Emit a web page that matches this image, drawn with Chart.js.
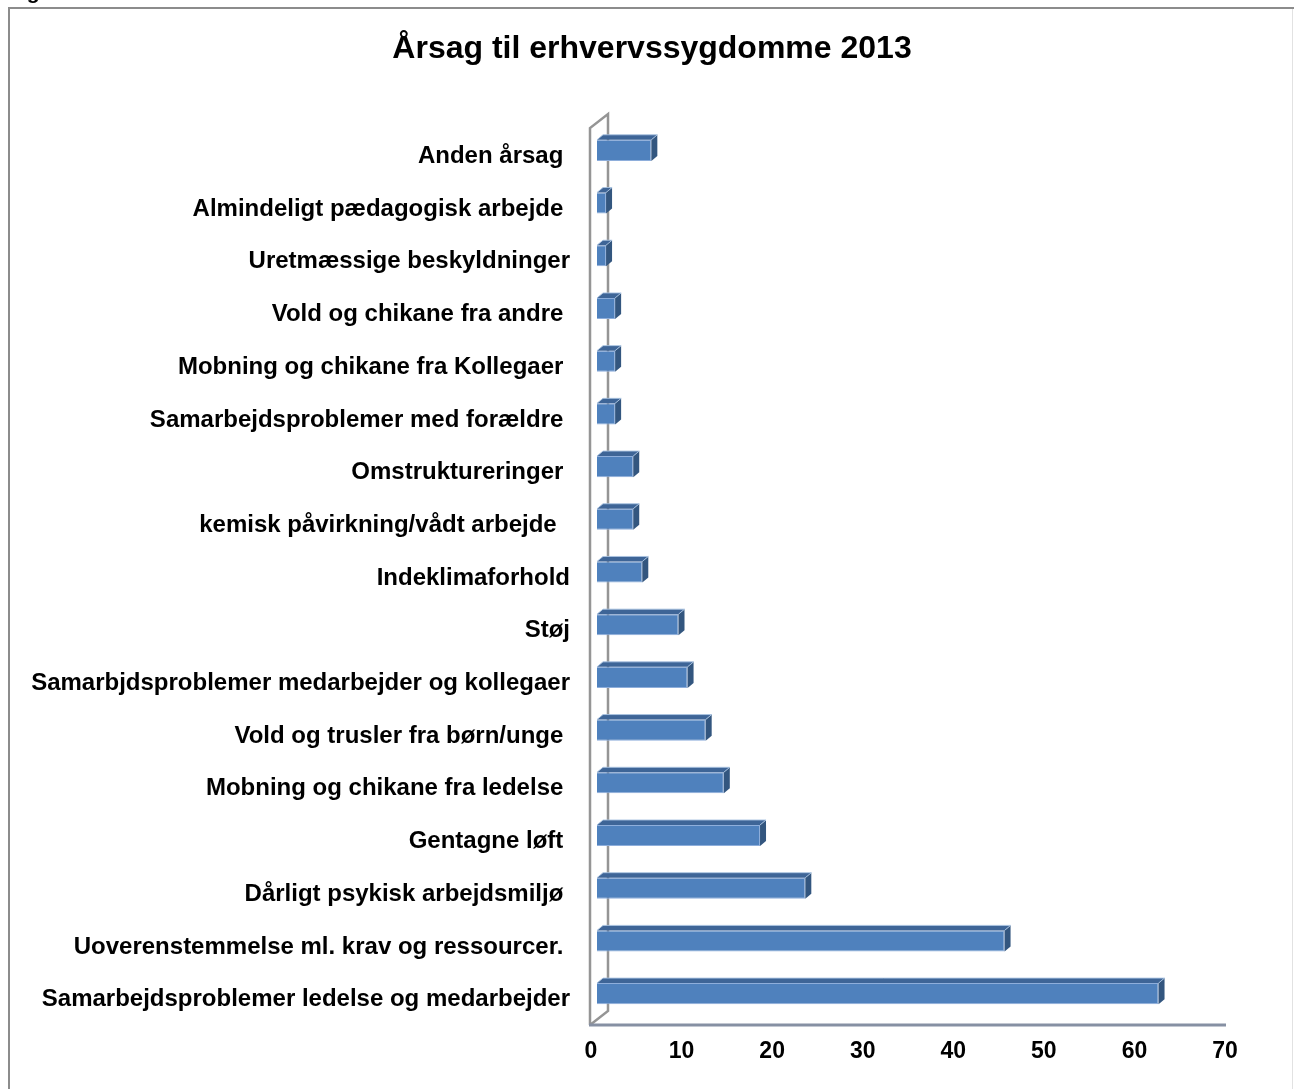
<!DOCTYPE html>
<html>
<head>
<meta charset="utf-8">
<script src="https://cdn.jsdelivr.net/npm/chart.js@4/dist/chart.umd.min.js"></script>
<style>
  html, body { margin: 0; padding: 0; background: #fff; }
  #wrap { width: 1294px; height: 1089px; position: relative; }
</style>
</head>
<body>
<div id="wrap"><canvas id="myChart" width="1294" height="1089"></canvas></div>
<script>
// causes, top to bottom as shown on the axis
const causes = [
    "Anden årsag ",
    "Almindeligt pædagogisk arbejde ",
    "Uretmæssige beskyldninger",
    "Vold og chikane fra andre ",
    "Mobning og chikane fra Kollegaer ",
    "Samarbejdsproblemer med forældre ",
    "Omstruktureringer ",
    "kemisk påvirkning/vådt arbejde  ",
    "Indeklimaforhold",
    "Støj",
    "Samarbjdsproblemer medarbejder og kollegaer",
    "Vold og trusler fra børn/unge ",
    "Mobning og chikane fra ledelse ",
    "Gentagne løft ",
    "Dårligt psykisk arbejdsmiljø ",
    "Uoverenstemmelse ml. krav og ressourcer. ",
    "Samarbejdsproblemer ledelse og medarbejder"
]
const counts = [6, 1, 1, 2, 2, 2, 4, 4, 5, 9, 10, 12, 14, 18, 23, 45, 62]
const xTicks = [0, 10, 20, 30, 40, 50, 60, 70]

const DX = 6, DY = 5   // depth of the 3d bars
const FONT = '"Liberation Sans", Arial, sans-serif'

// frame round the whole chart + a bit of caption cut off at the top
const framePlugin = {
    id: 'frame',
    beforeDraw(chart) {
        const ctx = chart.ctx
        ctx.save()
        ctx.fillStyle = '#fff'
        ctx.fillRect(0, 0, chart.width, chart.height)
        ctx.strokeStyle = '#8c8c8c'
        ctx.lineWidth = 2
        ctx.beginPath()
        ctx.moveTo(9, chart.height)
        ctx.lineTo(9, 8)
        ctx.lineTo(1294, 8)
        ctx.stroke()
        ctx.strokeStyle = '#e2e2e2'
        ctx.lineWidth = 1
        ctx.beginPath()
        ctx.moveTo(1292.5, 9)
        ctx.lineTo(1292.5, chart.height)
        ctx.stroke()
        ctx.fillStyle = '#000'
        ctx.font = 'bold 21px ' + FONT
        ctx.textBaseline = 'alphabetic'
        ctx.fillText('Fig. 3', 8, -1)
        ctx.restore()
    }
}

// side wall and floor of the 3d plot
const wallPlugin = {
    id: 'walls',
    beforeDatasetsDraw(chart) {
        const { ctx, chartArea } = chart
        const x = chart.scales.x
        const fx = chartArea.left - 7, bx = chartArea.left + 11
        const ft = chartArea.top + 4, bt = chartArea.top - 10
        const fb = chartArea.bottom + 5, bb = chartArea.bottom - 9
        ctx.save()
        ctx.strokeStyle = '#959595'
        ctx.lineWidth = 2.5
        ctx.beginPath()
        ctx.moveTo(fx, fb)
        ctx.lineTo(fx, ft)
        ctx.lineTo(bx, bt)
        ctx.lineTo(bx, bb)
        ctx.lineTo(fx, fb)
        ctx.stroke()
        // floor front edge
        ctx.strokeStyle = '#8690a3'
        ctx.lineWidth = 3
        ctx.beginPath()
        ctx.moveTo(fx - 1, fb)
        ctx.lineTo(x.getPixelForValue(70) - 5, fb)
        ctx.stroke()
        ctx.restore()
    }
}

// top and right faces of every bar
const bar3dPlugin = {
    id: 'bar3d',
    afterDatasetsDraw(chart) {
        const ctx = chart.ctx
        const meta = chart.getDatasetMeta(0)
        ctx.save()
        meta.data.forEach(bar => {
            const top = bar.y - bar.height / 2
            const bot = bar.y + bar.height / 2
            const l = bar.base, r = bar.x
            ctx.fillStyle = '#3e6597'
            ctx.beginPath()
            ctx.moveTo(l, top)
            ctx.lineTo(l + DX, top - DY)
            ctx.lineTo(r + DX, top - DY)
            ctx.lineTo(r, top)
            ctx.closePath()
            ctx.fill()
            ctx.fillStyle = '#33567f'
            ctx.beginPath()
            ctx.moveTo(r, top)
            ctx.lineTo(r + DX, top - DY)
            ctx.lineTo(r + DX, bot - DY)
            ctx.lineTo(r, bot)
            ctx.closePath()
            ctx.fill()
            ctx.strokeStyle = 'rgba(170,195,225,0.9)'
            ctx.lineWidth = 1
            ctx.beginPath()
            ctx.moveTo(l, top)
            ctx.lineTo(l + DX, top - DY)
            ctx.lineTo(r + DX, top - DY)
            ctx.lineTo(r, top)
            ctx.stroke()
        })
        ctx.restore()
    }
}

const ctx = document.getElementById('myChart').getContext('2d')
const myChart = new Chart(ctx, {
    type: 'bar',
    data: {
        labels: causes,
        datasets: [{
            data: counts,
            backgroundColor: '#4f81bd',
            borderColor: '#8eaedb',
            borderWidth: 1,
            categoryPercentage: 0.8,
            barPercentage: 0.5
        }]
    },
    options: {
        indexAxis: 'y',
        responsive: false,
        animation: false,
        layout: { padding: { left: 10, right: 0, top: 0, bottom: 0 } },
        plugins: {
            legend: { display: false },
            tooltip: { enabled: false },
            title: {
                display: true,
                text: 'Årsag til erhvervssygdomme 2013',
                color: '#000',
                font: { family: FONT, size: 32, weight: 'bold' },
                padding: { top: 30, bottom: 55.6 }
            }
        },
        scales: {
            x: {
                min: 0,
                max: 70,
                afterBuildTicks(scale) {
                    scale.ticks = xTicks.map(v => ({ value: v }))
                },
                afterFit(scale) {
                    scale.height = 69
                    scale.paddingRight = 63
                },
                grid: { display: false, drawTicks: false },
                border: { display: false },
                ticks: {
                    color: '#000',
                    padding: 18,
                    labelOffset: -6,
                    font: { family: FONT, size: 23, weight: 'bold' }
                }
            },
            y: {
                afterFit(scale) { scale.width = 587 },
                grid: { display: false, drawTicks: false },
                border: { display: false },
                ticks: {
                    color: '#000',
                    padding: 27,
                    labelOffset: 6,
                    autoSkip: false,
                    font: { family: FONT, size: 24, weight: 'bold' }
                }
            }
        }
    },
    plugins: [framePlugin, wallPlugin, bar3dPlugin]
})
</script>
</body>
</html>
